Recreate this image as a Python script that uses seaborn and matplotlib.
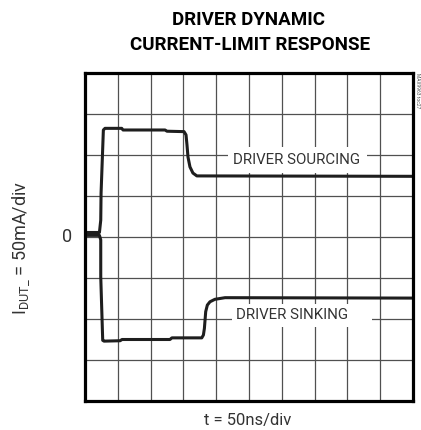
import matplotlib
matplotlib.use("Agg")
import matplotlib.pyplot as plt
import matplotlib.patches as mpatches
import numpy as np
import pandas as pd
import seaborn as sns

# Scope capture: 50 ns/div horizontally, 50 mA/div vertically
t_sourcing = [0, 22, 24, 24.5, 28, 30.5, 56, 58, 122, 125, 151, 154, 155.5,
              157, 160, 164.5, 170.5, 500]
i_sourcing = [5.5, 5.5, 20.5, 53.5, 130.5, 132.5, 132.5, 130.5, 130.5, 129,
              128.5, 124.5, 112, 97.5, 85.5, 78, 74.5, 74]

t_sinking = [0, 22, 24, 24, 27, 29, 53.5, 56.5, 129.5, 132.5, 178, 180.5, 182,
             184, 186.5, 190.5, 198, 213.5, 500]
i_sinking = [2, 2, -3.5, -48.5, -126, -127, -126.5, -125, -125, -123, -123,
             -119.5, -111.5, -91, -83, -79, -76, -74, -74.5]

title_lines = ["DRIVER DYNAMIC", "CURRENT-LIMIT RESPONSE"]
label_sourcing = "DRIVER SOURCING"
label_sinking = "DRIVER SINKING"
x_caption = "t = 50ns/div"
y_caption = r"I$_{\mathrm{DUT\_}}$ = 50mA/div"
part_tag = "MAX9963 toc27"

sns.set_theme(style="white")
plt.rcParams["font.family"] = ["Roboto", "DejaVu Sans"]
plt.rcParams["font.stretch"] = "condensed"
plt.rcParams["mathtext.fontset"] = "custom"
plt.rcParams["mathtext.rm"] = "Roboto"
plt.rcParams["mathtext.it"] = "Roboto"

df = pd.concat([
    pd.DataFrame({"t": t_sourcing, "i": i_sourcing, "trace": "sourcing"}),
    pd.DataFrame({"t": t_sinking, "i": i_sinking, "trace": "sinking"}),
], ignore_index=True)

fig = plt.figure(figsize=(4.21, 4.30), dpi=100)
ax = fig.add_axes([85 / 421, 1 - 401 / 430, 328 / 421, 328 / 430])

ax.set_xlim(0, 500)
ax.set_ylim(-200, 200)
ax.set_xticks(np.arange(0, 501, 50))
ax.set_yticks(np.arange(-200, 201, 50))
ax.set_xticklabels([])
ax.set_yticklabels([])
ax.tick_params(length=0)
ax.grid(True, color="#505050", linewidth=0.9)
ax.set_axisbelow(True)
for s in ax.spines.values():
    s.set_color("black")
    s.set_linewidth(2.3)
    s.set_zorder(6)

# white label backgrounds cut through the graticule
ax.add_patch(mpatches.Rectangle((218, 78), 212, 32, facecolor="white",
                                edgecolor="none", zorder=2))
ax.add_patch(mpatches.Rectangle((224, -110), 214, 28, facecolor="white",
                                edgecolor="none", zorder=2))

sns.lineplot(data=df, x="t", y="i", units="trace", estimator=None, sort=False,
             color="#1e1e1e", linewidth=2.2, ax=ax, zorder=4)
ax.set_xlabel("")
ax.set_ylabel("")

ax.text(322, 94, label_sourcing, ha="center", va="center", fontsize=10.8,
        color="#333333", zorder=5)
ax.text(316, -95.5, label_sinking, ha="center", va="center", fontsize=10.8,
        color="#333333", zorder=5)

ax.text(-0.055, 0, "0", transform=ax.get_yaxis_transform(), ha="center",
        va="center", fontsize=13, color="#333333")

fig.text(249 / 421, 1 - 20 / 430, title_lines[0], ha="center", va="center",
         fontsize=13.5, fontweight="bold", color="black")
fig.text(250 / 421, 1 - 45.5 / 430, title_lines[1], ha="center", va="center",
         fontsize=13.5, fontweight="bold", color="black")
fig.text(247.5 / 421, 1 - 420 / 430, x_caption, ha="center", va="center",
         fontsize=12, color="#333333")
fig.text(21 / 421, 1 - 248 / 430, y_caption, ha="center", va="center",
         rotation=90, fontsize=13, color="#333333")
fig.text(417.5 / 421, 1 - 73 / 430, part_tag, ha="center", va="top",
         rotation=270, fontsize=3.5, color="#555555")

fig.savefig("out.png", dpi=100)
